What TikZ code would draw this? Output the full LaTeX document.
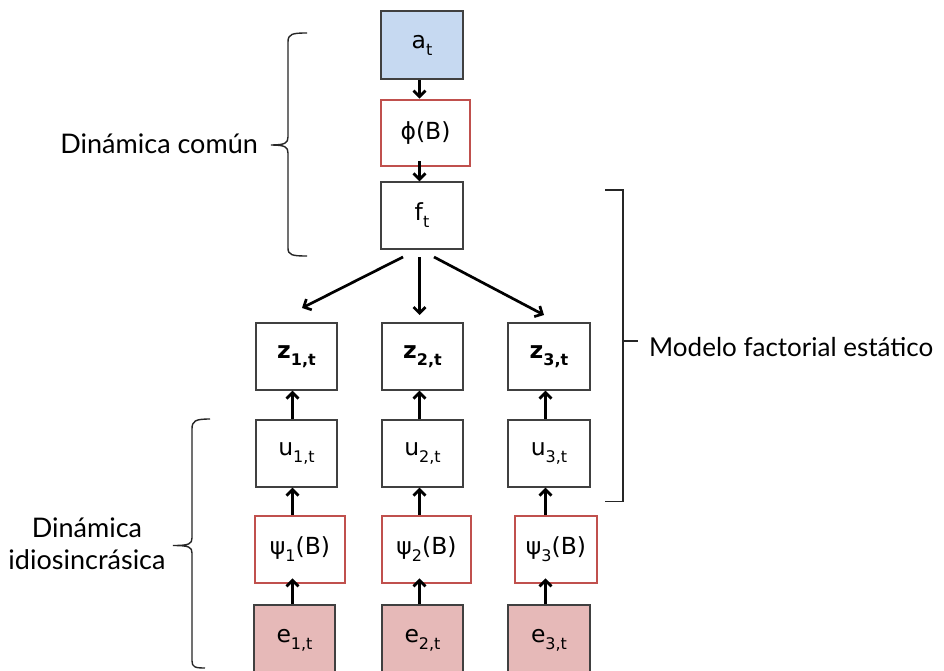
\documentclass[tikz,border=0pt]{standalone}
\usepackage{fontspec}
\setmainfont{DejaVu Sans}
\newfontfamily\labelfont{Lato}
\usetikzlibrary{arrows.meta,calc}
\definecolor{bluefill}{HTML}{C6D9F1}
\definecolor{pinkfill}{HTML}{E6B9B8}
\definecolor{redline}{HTML}{C0504D}
\definecolor{boxline}{HTML}{404040}
\definecolor{brline}{HTML}{262626}
\newcommand{\lo}[1]{\raisebox{-0.3em}{\fontsize{16}{16}\selectfont #1}}
\tikzset{
  box/.style={draw=boxline, line width=1.4pt, inner sep=0pt, font=\fontsize{23.5}{26}\selectfont},
  redbox/.style={box, draw=redline, line width=2.9pt},
  bluebox/.style={box, fill=bluefill},
  pinkbox/.style={box, fill=pinkfill},
  arr/.style={line width=2.7pt, -{Straight Barb[length=6pt,width=12pt]}},
  brk/.style={draw=brline, line width=1.4pt},
  lab/.style={font=\labelfont\fontsize{27}{32}\selectfont, inner sep=0pt}
}
\begin{document}
\begin{tikzpicture}[x=1pt,y=-1pt]
\clip (0,0) rectangle (944,671);
\fill[white] (0,0) rectangle (944,671);
% top column
\node[bluebox, minimum width=82pt, minimum height=68pt] (a) at (422,45) {a\lo{t}};
\node[redbox, minimum width=89pt, minimum height=66pt] (phi) at (425.5,133) {ϕ(B)};
\node[box, minimum width=82pt, minimum height=67pt] (f) at (422,215.5) {f\lo{t}};
% z row
\node[box, minimum width=81pt, minimum height=67pt] (z1) at (296.5,356.5) {\bfseries z\lo{\bfseries 1,t}};
\node[box, minimum width=81pt, minimum height=67pt] (z2) at (422.5,356.5) {\bfseries z\lo{\bfseries 2,t}};
\node[box, minimum width=82pt, minimum height=67pt] (z3) at (549,356.5) {\bfseries z\lo{\bfseries 3,t}};
% u row
\node[box, minimum width=81pt, minimum height=67pt] (u1) at (296.5,453.5) {u\lo{1,t}};
\node[box, minimum width=81pt, minimum height=67pt] (u2) at (422.5,453.5) {u\lo{2,t}};
\node[box, minimum width=82pt, minimum height=67pt] (u3) at (549,453.5) {u\lo{3,t}};
% psi row
\node[redbox, minimum width=90pt, minimum height=67pt] (p1) at (300,549.5) {ψ\lo{1}(B)};
\node[redbox, minimum width=89pt, minimum height=67pt] (p2) at (426.5,549.5) {ψ\lo{2}(B)};
\node[redbox, minimum width=82pt, minimum height=67pt] (p3) at (556,549.5) {ψ\lo{3}(B)};
% e row
\node[pinkbox, minimum width=81pt, minimum height=70pt] (e1) at (294.5,640) {e\lo{1,t}};
\node[pinkbox, minimum width=81pt, minimum height=70pt] (e2) at (422.5,640) {e\lo{2,t}};
\node[pinkbox, minimum width=82pt, minimum height=70pt] (e3) at (549,640) {e\lo{3,t}};
% column guide coordinates
\coordinate (c0) at (419.5,0);
\coordinate (c1) at (292.5,0);
\coordinate (c2) at (419.5,0);
\coordinate (c3) at (545.5,0);
% arrows top
\draw[arr] (a.south -| c0) -- (phi.north -| c0);
\draw[arr] ([yshift=6pt]phi.south -| c0) -- (f.north -| c0);
% fan arrows
\coordinate (fs1) at (403,257);
\coordinate (fs2) at (419.5,257);
\coordinate (fs3) at (434,257);
\coordinate (zt1) at (302,308);
\coordinate (zt2) at (419.5,315);
\coordinate (zt3) at (544,315);
\draw[arr] (fs1) -- (zt1);
\draw[arr] (fs2) -- (zt2);
\draw[arr] (fs3) -- (zt3);
% column arrows
\foreach \i in {1,2,3}{
  \draw[arr] (u\i.north -| c\i) -- (z\i.south -| c\i);
  \draw[arr] (p\i.north -| c\i) -- (u\i.south -| c\i);
  \draw[arr] (e\i.north -| c\i) -- ([yshift=6pt]p\i.south -| c\i);
}
% brace: Dinamica comun
\draw[brk] (307,33) .. controls (292,33) and (288,34) .. (288,42) -- (288,137)
  .. controls (288,143) and (285,145) .. (271,145)
  .. controls (285,145) and (288,147) .. (288,153) -- (288,248)
  .. controls (288,255) and (292,256) .. (307,256);
\node[lab, anchor=east] (lc) at (258,144) {Dinámica común};
% brace: Dinamica idiosincrasica
\draw[brk] (210,419) .. controls (195,419) and (192,421) .. (192,429) -- (192,538)
  .. controls (192,544) and (189,545.5) .. (173,545.5)
  .. controls (189,545.5) and (192,547) .. (192,553) -- (192,661)
  .. controls (192,667) and (195,668) .. (205,668);
\node[lab, align=center] (li) at (87,544) {Dinámica\\idiosincrásica};
% bracket: Modelo factorial estatico
\draw[brk] (605,190) -- (623,190) -- (623,501.5) -- (605,501.5);
\coordinate (bt) at (623,341);
\node[lab, font=\labelfont\fontsize{26}{30}\selectfont, anchor=west] (lm) at (649,347) {Modelo factorial estático};
\draw[brk] (bt) -- ([xshift=-11pt]lm.west |- bt);
\end{tikzpicture}
\end{document}
